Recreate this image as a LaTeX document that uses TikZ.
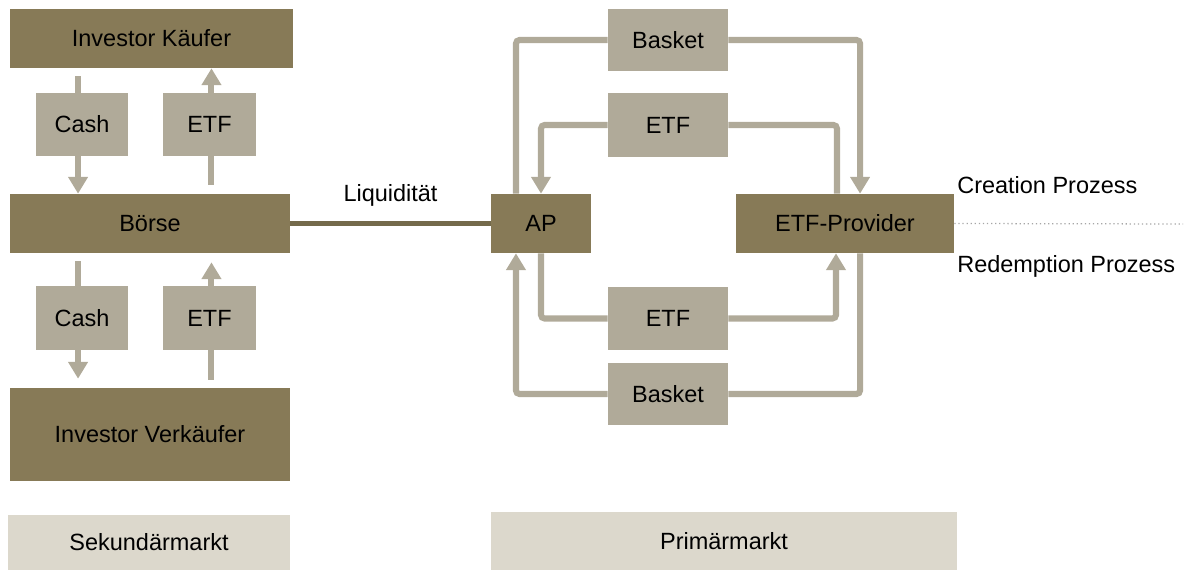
\documentclass[tikz,border=0pt]{standalone}
\usepackage{fontspec}
\setmainfont{Liberation Sans}
\usetikzlibrary{arrows.meta,backgrounds}
\definecolor{darkolive}{HTML}{877A57}
\definecolor{greyolive}{HTML}{B0AA99}
\definecolor{paleolive}{HTML}{DCD8CC}
\definecolor{liqline}{HTML}{746A4B}
\begin{document}
\begin{tikzpicture}[x=0.025cm,y=-0.025cm]
    \tikzstyle{label}=[font=\fontsize{16.7}{19}\selectfont,text=black]
    \tikzstyle{party}=[label,fill=darkolive,inner sep=0pt,minimum height=1.475cm]
    \tikzstyle{asset}=[label,fill=greyolive,inner sep=0pt]
    \tikzstyle{market}=[label,fill=paleolive,inner sep=0pt]
    \tikzstyle{flow}=[draw=greyolive,line width=4.3pt,rounded corners=2.5pt]
    \tikzstyle{flowtip}=[-{Triangle[length=12pt,width=13.5pt]}]
    \useasboundingbox (0,0) rectangle (1187,570);
    % secondary market
    \node [party,minimum width=7.075cm] (kaeufer) at (151.5,38.5) {Investor K\"aufer};
    \node [party,minimum width=7cm] (boerse) at (150,223.5) {B\"orse};
    \node [party,minimum width=7cm,minimum height=2.325cm] (verkaeufer) at (150,434.5) {Investor Verk\"aufer};
    \node [asset,minimum width=2.3cm,minimum height=1.575cm] (cashtop) at (82,124.5) {Cash};
    \node [asset,minimum width=2.325cm,minimum height=1.575cm] (etftop) at (209.5,124.5) {ETF};
    \node [asset,minimum width=2.3cm,minimum height=1.6cm] (cashbot) at (82,318) {Cash};
    \node [asset,minimum width=2.325cm,minimum height=1.6cm] (etfbot) at (209.5,318) {ETF};
    \node [market,minimum width=7.05cm,minimum height=1.375cm] (sekundaer) at (149,542.5) {Sekund\"armarkt};
    % primary market
    \node [party,minimum width=2.5cm] (ap) at (541,223.5) {AP};
    \node [party,minimum width=5.45cm] (provider) at (845,223.5) {ETF-Provider};
    \node [asset,minimum width=3cm,minimum height=1.55cm] (basketc) at (668,40) {Basket};
    \node [asset,minimum width=3cm,minimum height=1.6cm] (etfc) at (668,125) {ETF};
    \node [asset,minimum width=3cm,minimum height=1.575cm] (etfr) at (668,318.5) {ETF};
    \node [asset,minimum width=3cm,minimum height=1.55cm] (basketr) at (668,394) {Basket};
    \node [market,minimum width=11.65cm,minimum height=1.45cm] (primaer) at (724,541) {Prim\"armarkt};
    \node [label,anchor=west,inner sep=0pt] (creation) at (957,185) {Creation Prozess};
    \node [label,anchor=west,inner sep=0pt] (redemption) at (957,266) {Redemption Prozess};
    \coordinate (dotend) at (1183,224);
    \begin{scope}[on background layer]
        \draw[flow,flowtip,shorten <=5.7pt] ([xshift=-2.8pt]kaeufer.south -| cashtop) -- ([xshift=-2.8pt]boerse.north -| cashtop);
        \draw[flow,flowtip,shorten <=6.4pt] ([xshift=1.4pt]boerse.north -| etftop) -- ([xshift=1.4pt]kaeufer.south -| etftop);
        \draw[flow,flowtip,shorten <=5.7pt,shorten >=6.4pt] ([xshift=-2.8pt]boerse.south -| cashbot) -- ([xshift=-2.8pt]verkaeufer.north -| cashbot);
        \draw[flow,flowtip,shorten <=5.7pt,shorten >=6.4pt] ([xshift=1.4pt]verkaeufer.north -| etfbot) -- ([xshift=1.4pt]boerse.south -| etfbot);
    \end{scope}
    \draw[flow] (basketc.west) -| ([xshift=-17.8pt]ap.north);
    \draw[flow,flowtip] (basketc.east) -| ([xshift=10.7pt]provider.north);
    \draw[flow,flowtip] (etfc.west) -| (ap.north);
    \draw[flow] (etfc.east) -| ([xshift=-5.7pt]provider.north);
    \draw[flow] (ap.south) |- (etfr.west);
    \draw[flow,flowtip] (etfr.east) -| ([xshift=-6.4pt]provider.south);
    \draw[flow,flowtip] (basketr.west) -| ([xshift=-17.8pt]ap.south);
    \draw[flow] ([xshift=10.7pt]provider.south) |- (basketr.east);
    \draw[liqline,line width=3.6pt] (boerse.east) -- node[label,above=10.5pt,inner sep=0pt] {Liquidit\"at} (ap.west);
    \draw[gray!70,dotted,line width=0.9pt] (provider.east) -- (dotend);
\end{tikzpicture}
\end{document}
